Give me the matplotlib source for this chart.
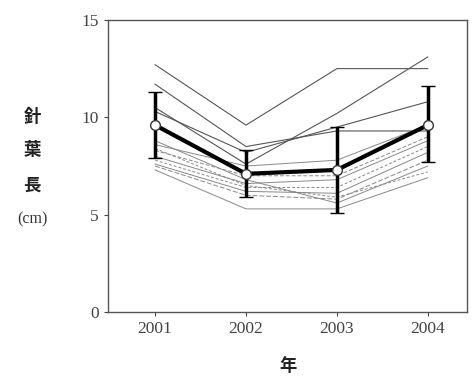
import matplotlib
matplotlib.use("Agg")
import matplotlib.pyplot as plt

years = [2001, 2002, 2003, 2004]
year_labels = ["2001", "2002", "2003", "2004"]

# individual trees (needle length, cm)
tree_01 = [12.7, 9.6, 12.5, 12.5]
tree_02 = [11.7, 8.5, 9.3, 9.3]
tree_03 = [10.5, 7.6, 10.2, 13.1]
tree_04 = [10.3, 8.2, 9.5, 10.8]
tree_05 = [8.6, 7.5, 7.8, 9.6]
tree_06 = [8.3, 7.0, 7.0, 9.0]
tree_07 = [8.0, 6.6, 6.8, 8.8]
tree_08 = [7.8, 6.4, 6.4, 8.5]
tree_09 = [7.6, 6.2, 6.1, 8.2]
tree_10 = [7.5, 6.0, 5.8, 7.8]
tree_11 = [8.8, 6.8, 5.6, 7.5]
tree_12 = [7.3, 5.3, 5.3, 6.9]
tree_13 = [8.4, 6.5, 5.9, 7.2]
upper_trees = [tree_01, tree_02, tree_03, tree_04]
lower_trees = [tree_05, tree_06, tree_07, tree_08, tree_09,
               tree_10, tree_11, tree_12, tree_13]

mean_vals = [9.6, 7.1, 7.3, 9.6]
err_low = [7.9, 5.9, 5.1, 7.7]
err_high = [11.3, 8.3, 9.5, 11.6]

yerr = [[m - lo for m, lo in zip(mean_vals, err_low)],
        [hi - m for m, hi in zip(mean_vals, err_high)]]

fig = plt.figure(figsize=(4.73, 3.83), dpi=100)
ax = fig.add_axes([0.228, 0.185, 0.759, 0.763])

for t in upper_trees:
    ax.plot(years, t, color="#555555", lw=0.8, zorder=1)
styles = ["-", (0, (4, 2)), "-", (0, (3, 2)), "-", (0, (5, 2)), "-", "-", (0, (3, 2))]
for t, ls in zip(lower_trees, styles):
    ax.plot(years, t, color="#888888", lw=0.7, ls=ls, zorder=1)

ax.errorbar(years, mean_vals, yerr=yerr, color="black", lw=3, elinewidth=2.5,
            capsize=5, capthick=2.5, marker="o", markersize=7,
            markerfacecolor="white", markeredgecolor="#333333", markeredgewidth=1,
            zorder=3)

ax.set_xlim(2000.48, 2004.43)
ax.set_ylim(0, 15)
ax.set_xticks(years)
ax.set_xticklabels(year_labels)
ax.set_yticks([0, 5, 10, 15])
ax.set_yticklabels(["0", "5", "10", "15"])
for lab in ax.get_xticklabels() + ax.get_yticklabels():
    lab.set_fontfamily("Liberation Serif")
    lab.set_fontsize(12.5)
    lab.set_color("#333333")
ax.tick_params(direction="out", length=3, width=0.8, colors="#444444")
for s in ax.spines.values():
    s.set_color("#555555")
    s.set_linewidth(1)

cjk = ["Noto Sans CJK JP", "DejaVu Sans"]
for ch, y in [("針", 117), ("葉", 150), ("長", 186)]:
    fig.text(32 / 473, 1 - y / 383, ch, fontsize=12.5, fontweight="bold",
             family=cjk, ha="center", va="center", color="#222222")
fig.text(32 / 473, 1 - 219 / 383, "(cm)", fontsize=11.5, family="Liberation Serif",
         ha="center", va="center", color="#333333")
fig.text(288 / 473, 1 - 366 / 383, "年", fontsize=12.5, fontweight="bold",
         family=cjk, ha="center", va="center", color="#222222")

fig.savefig("out.png", dpi=100)
